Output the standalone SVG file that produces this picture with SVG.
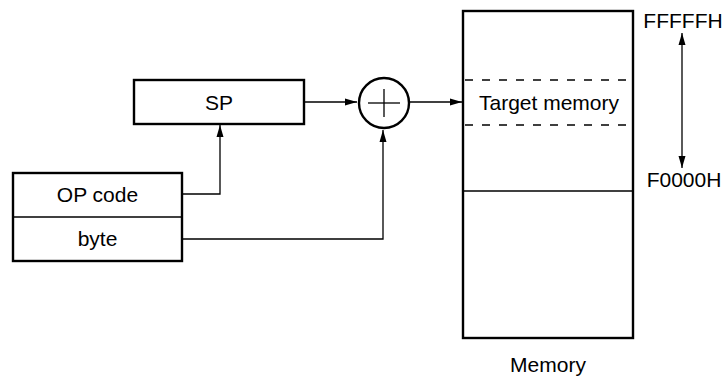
<svg xmlns="http://www.w3.org/2000/svg" width="724" height="378" viewBox="0 0 724 378">
<defs>
<style>
.box{fill:#fff;stroke:#000;stroke-width:2.4}
.thin{fill:none;stroke:#000;stroke-width:1.3}
.dash{fill:none;stroke:#000;stroke-width:1.3;stroke-dasharray:8 9}
text{font-family:"Liberation Sans",Arial,sans-serif;font-size:21px;fill:#000;text-anchor:middle}
</style>
<marker id="ah" markerUnits="userSpaceOnUse" markerWidth="13" markerHeight="8" refX="12" refY="4" orient="auto-start-reverse">
<path d="M0,0.5 L12,4 L0,7.5 Z" fill="#000"/>
</marker>
</defs>
<g id="connectors">
<polyline class="thin" points="182,194 220,194 220,125" marker-end="url(#ah)"/>
<polyline class="thin" points="182,239 383,239 383,130" marker-end="url(#ah)"/>
<line class="thin" x1="304" y1="102" x2="357" y2="102" marker-end="url(#ah)"/>
<line class="thin" x1="410" y1="102" x2="462" y2="102" marker-end="url(#ah)"/>
<line class="thin" x1="682" y1="33" x2="682" y2="168" marker-start="url(#ah)" marker-end="url(#ah)"/>
</g>
<g id="opbox">
<rect class="box" x="13" y="173" width="169" height="88"/>
<line class="thin" x1="13" y1="217" x2="182" y2="217"/>
<text x="97.5" y="202">OP code</text>
<text x="97.5" y="246">byte</text>
</g>
<g id="sp">
<rect class="box" x="134" y="80" width="170" height="44"/>
<text x="219" y="110">SP</text>
</g>
<g id="adder">
<circle class="box" cx="384" cy="103" r="25"/>
<line class="thin" x1="368" y1="103" x2="400" y2="103"/>
<line class="thin" x1="384" y1="89" x2="384" y2="117"/>
</g>
<g id="memory">
<rect class="box" x="463" y="11" width="170" height="327"/>
<line class="dash" x1="465" y1="80" x2="629" y2="80"/>
<line class="dash" x1="465" y1="125" x2="629" y2="125"/>
<line class="thin" x1="463" y1="191" x2="633" y2="191"/>
<text x="549" y="110">Target memory</text>
<text x="548" y="372">Memory</text>
</g>
<g id="labels">
<text x="683" y="28">FFFFFH</text>
<text x="684" y="187">F0000H</text>
</g>
</svg>
